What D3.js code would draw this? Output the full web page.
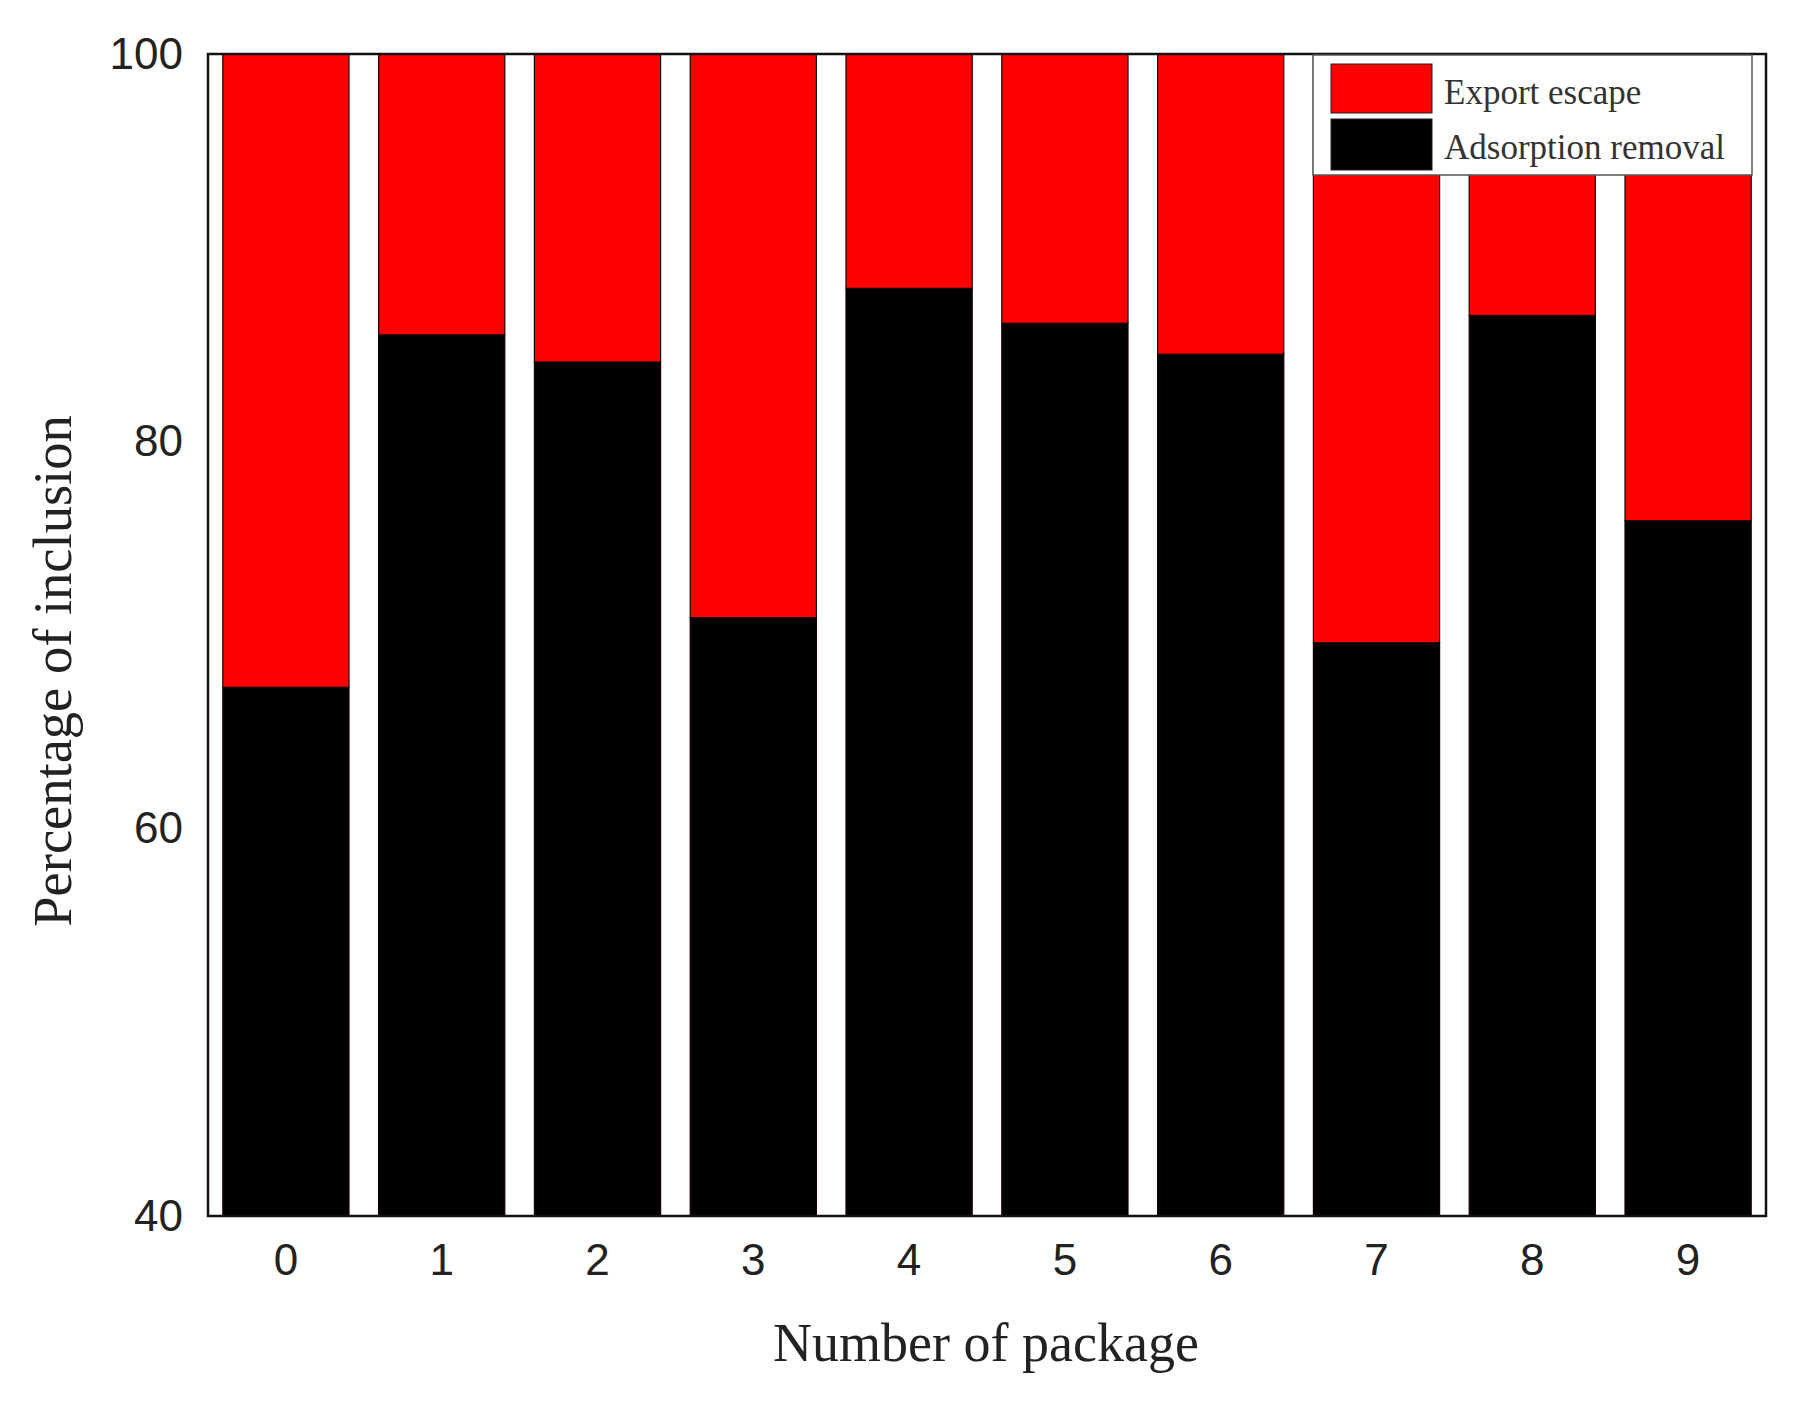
<!DOCTYPE html>
<html>
<head>
<meta charset="utf-8">
<script src="https://cdn.jsdelivr.net/npm/d3@7"></script>
<style>
  html, body { margin: 0; padding: 0; background: #fff; }
  svg { display: block; }
</style>
</head>
<body>
<svg id="chart" width="1807" height="1407"></svg>
<script>
// ---- data ----
const categories = ["0", "1", "2", "3", "4", "5", "6", "7", "8", "9"];
const adsorptionRemoval = [67.3, 85.5, 84.1, 70.9, 87.9, 86.1, 84.5, 69.6, 86.5, 75.9];
const exportEscape = [32.7, 14.5, 15.9, 29.1, 12.1, 13.9, 15.5, 30.4, 13.5, 24.1];
const yTicks = [40, 60, 80, 100];
const seriesNames = ["Export escape", "Adsorption removal"];
const seriesColors = ["#ff0000", "#000000"];
const xTitle = "Number of package";
const yTitle = "Percentage of inclusion";

// ---- layout ----
const margin = { left: 208, right: 1807 - 1766, top: 54, bottom: 1407 - 1216 };
const W = 1807, H = 1407;
const svg = d3.select("#chart");
const innerW = W - margin.left - margin.right;
const innerH = H - margin.top - margin.bottom;

const x = d3.scaleBand().domain(categories).range([margin.left, margin.left + innerW])
  .paddingInner(0.19).paddingOuter(0.095);
const y = d3.scaleLinear().domain([40, 100]).range([margin.top + innerH, margin.top]);

const rows = categories.map((c, i) => ({ cat: c, black: adsorptionRemoval[i], red: exportEscape[i] }));
const stack = d3.stack().keys(["black", "red"])(rows);

const g = svg.append("g");
svg.append("defs").append("clipPath").attr("id", "plotclip")
  .append("rect").attr("x", margin.left).attr("y", margin.top).attr("width", innerW).attr("height", innerH);

const layers = g.append("g").attr("clip-path", "url(#plotclip)")
  .selectAll("g.layer").data(stack).join("g").attr("class", "layer")
  .attr("fill", (d, i) => i === 0 ? seriesColors[1] : seriesColors[0]);

layers.selectAll("rect").data(d => d).join("rect")
  .attr("x", d => x(d.data.cat))
  .attr("width", x.bandwidth())
  .attr("y", d => y(d[1]))
  .attr("height", d => y(Math.max(40, d[0])) - y(d[1]))
  .attr("stroke", "#1a0000")
  .attr("stroke-width", 1.2);

// frame
g.append("rect")
  .attr("x", margin.left).attr("y", margin.top)
  .attr("width", innerW).attr("height", innerH)
  .attr("fill", "none").attr("stroke", "#111").attr("stroke-width", 2.5);

// axes (no tick marks)
const yAxis = d3.axisLeft(y).tickValues(yTicks).tickSize(0).tickPadding(25).tickFormat(d3.format("d"));
const yG = g.append("g").attr("transform", `translate(${margin.left},0)`).call(yAxis);
yG.select(".domain").remove();
yG.selectAll("text").attr("font-family", "'Liberation Sans', Arial, sans-serif")
  .attr("font-size", 44).attr("fill", "#222");

const xAxis = d3.axisBottom(x).tickSize(0).tickPadding(28);
const xG = g.append("g").attr("transform", `translate(0,${margin.top + innerH})`).call(xAxis);
xG.select(".domain").remove();
xG.selectAll("text").attr("font-family", "'Liberation Sans', Arial, sans-serif")
  .attr("font-size", 44).attr("fill", "#222");

// axis titles
svg.append("text")
  .attr("x", margin.left + innerW / 2 - 1).attr("y", 1361)
  .attr("text-anchor", "middle")
  .attr("font-family", "'Liberation Serif', 'Times New Roman', serif")
  .attr("font-size", 54).attr("fill", "#222")
  .text(xTitle);

svg.append("text")
  .attr("transform", `translate(71,${margin.top + innerH / 2 + 36}) rotate(-90)`)
  .attr("text-anchor", "middle")
  .attr("font-family", "'Liberation Serif', 'Times New Roman', serif")
  .attr("font-size", 54.5).attr("fill", "#222")
  .text(yTitle);

// legend
const lg = svg.append("g");
lg.append("rect")
  .attr("x", 1313).attr("y", 55).attr("width", 439).attr("height", 120)
  .attr("fill", "#fff").attr("stroke", "#555").attr("stroke-width", 1.5);
const entries = seriesNames.map((n, i) => ({ name: n, color: seriesColors[i] }));
lg.selectAll("rect.sw").data(entries).join("rect").attr("class", "sw")
  .attr("x", 1331).attr("y", (d, i) => 64 + i * 55)
  .attr("width", 101).attr("height", (d, i) => i === 0 ? 49 : 51)
  .attr("fill", d => d.color).attr("stroke", "#222").attr("stroke-width", 1);
lg.selectAll("text").data(entries).join("text")
  .attr("x", 1444).attr("y", (d, i) => 104 + i * 55)
  .attr("font-family", "'Liberation Serif', 'Times New Roman', serif")
  .attr("font-size", 35).attr("fill", "#333")
  .text(d => d.name);
</script>
</body>
</html>
